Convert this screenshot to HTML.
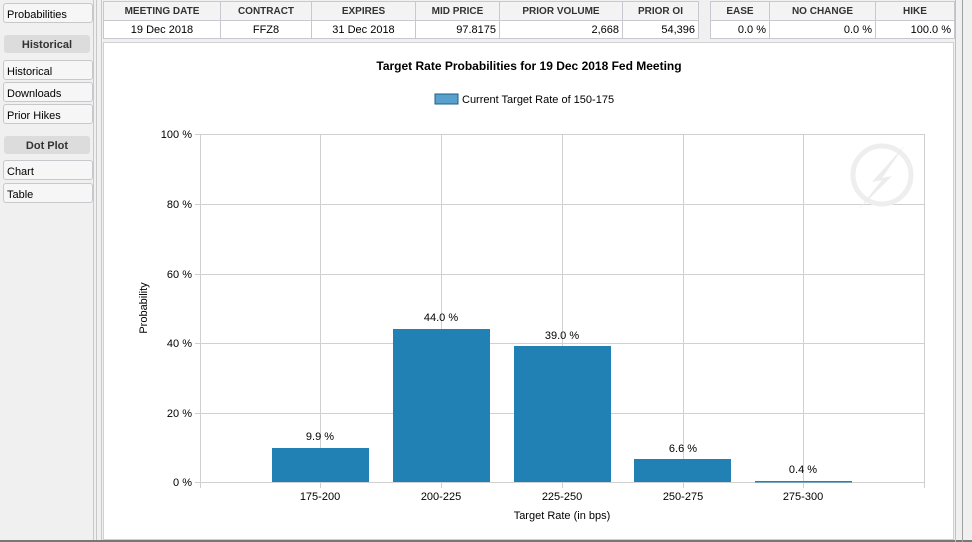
<!DOCTYPE html>
<html><head><style>
body{margin:0;width:972px;height:542px;background:#f0f0f0;position:relative;overflow:hidden;font-family:"Liberation Sans",Arial,sans-serif;font-size:11px;color:#000}
.a{position:absolute}
.nav{position:absolute;left:3px;width:90px;height:20px;border:1px solid #c8c8cc;border-radius:3px;background:#f6f6f6;box-sizing:border-box;padding:5px 0 0 3px;font-size:11px}
.hd{position:absolute;left:4px;width:86px;height:18px;background:#dcdcdc;border-radius:3px;text-align:center;font-weight:bold;font-size:11px;color:#333;padding-top:4px;box-sizing:border-box}
table{position:absolute;border-collapse:collapse;background:#fff;font-size:11px}
td,th{border:1px solid #c8c8d0;height:17px;padding:0 3px;box-sizing:border-box}
th{background:#f3f3f3;font-weight:bold;color:#333;font-size:10px;text-align:center}
</style></head><body>
<div class="a" style="left:93px;top:0;width:1px;height:542px;background:#c8c8c8"></div>
<div class="a" style="left:96px;top:0;width:1px;height:542px;background:#c8c8c8"></div>
<div class="a" style="left:101px;top:0;width:1px;height:542px;background:#c8c8c8"></div>
<div class="nav" style="top:3px">Probabilities</div>
<div class="hd" style="top:35px">Historical</div>
<div class="nav" style="top:60px">Historical</div>
<div class="nav" style="top:82px">Downloads</div>
<div class="nav" style="top:104px">Prior Hikes</div>
<div class="hd" style="top:136px">Dot Plot</div>
<div class="nav" style="top:160px">Chart</div>
<div class="nav" style="top:183px">Table</div>
<table style="left:103px;top:1px">
<tr style="height:19px"><th style="width:117px">MEETING DATE</th><th style="width:91px">CONTRACT</th><th style="width:104px">EXPIRES</th><th style="width:84px">MID PRICE</th><th style="width:123px">PRIOR VOLUME</th><th style="width:76px">PRIOR OI</th></tr>
<tr style="height:18px"><td style="text-align:center">19 Dec 2018</td><td style="text-align:center">FFZ8</td><td style="text-align:center">31 Dec 2018</td><td style="text-align:right">97.8175</td><td style="text-align:right">2,668</td><td style="text-align:right">54,396</td></tr>
</table>
<table style="left:710px;top:1px">
<tr style="height:19px"><th style="width:59px">EASE</th><th style="width:106px">NO CHANGE</th><th style="width:79px">HIKE</th></tr>
<tr style="height:18px"><td style="text-align:right">0.0 %</td><td style="text-align:right">0.0 %</td><td style="text-align:right">100.0 %</td></tr>
</table>
<div class="a" style="left:103px;top:42px;width:851px;height:498px;background:#fff;border:1px solid #d0d0d0;box-sizing:border-box"></div>
<div class="a" style="left:0;top:540px;width:972px;height:2px;background:#777"></div>
<div class="a" style="left:955px;top:0;width:1px;height:542px;background:#c0c0c0"></div>
<div class="a" style="left:962px;top:0;width:1px;height:542px;background:#a0a0a0"></div>
<svg class="a" style="left:0;top:0" width="972" height="542" font-family="Liberation Sans, Arial, sans-serif" font-size="11">
<text x="529" y="70" text-anchor="middle" font-weight="bold" font-size="12">Target Rate Probabilities for 19 Dec 2018 Fed Meeting</text>
<rect x="435" y="94" width="23" height="10" fill="#5aa0cc" stroke="#1a5f8a"/>
<text x="462" y="103">Current Target Rate of 150-175</text>
<g stroke="#d0d0d0" stroke-width="1">
<line x1="200" y1="134.5" x2="924" y2="134.5"/><line x1="200" y1="204.5" x2="924" y2="204.5"/><line x1="200" y1="274.5" x2="924" y2="274.5"/><line x1="200" y1="343.5" x2="924" y2="343.5"/><line x1="200" y1="413.5" x2="924" y2="413.5"/><line x1="195" y1="482.5" x2="924" y2="482.5"/>
<line x1="195" y1="134.5" x2="200" y2="134.5"/><line x1="195" y1="204.5" x2="200" y2="204.5"/><line x1="195" y1="274.5" x2="200" y2="274.5"/><line x1="195" y1="343.5" x2="200" y2="343.5"/><line x1="195" y1="413.5" x2="200" y2="413.5"/>
<line x1="200.5" y1="134" x2="200.5" y2="488"/><line x1="320.5" y1="134" x2="320.5" y2="488"/><line x1="441.5" y1="134" x2="441.5" y2="488"/><line x1="562.5" y1="134" x2="562.5" y2="488"/><line x1="683.5" y1="134" x2="683.5" y2="488"/><line x1="803.5" y1="134" x2="803.5" y2="488"/><line x1="924.5" y1="134" x2="924.5" y2="488"/>
</g>
<circle cx="882" cy="175" r="29" fill="none" stroke="#eeeeee" stroke-width="5"/>
<path d="M905 145 L872 182 L882 180 L858 210 L892 176 L882 178 Z" fill="#ececec"/>
<g text-anchor="end"><text x="192" y="138">100 %</text><text x="192" y="208">80 %</text><text x="192" y="278">60 %</text><text x="192" y="347">40 %</text><text x="192" y="417">20 %</text><text x="192" y="486">0 %</text></g>
<text transform="translate(147,308) rotate(-90)" text-anchor="middle">Probability</text>
<g fill="#2181b4">
<rect x="272" y="448" width="97" height="34"/><rect x="393" y="329" width="97" height="153"/><rect x="514" y="346" width="97" height="136"/><rect x="634" y="459" width="97" height="23"/><rect x="755" y="481" width="97" height="1.5"/>
</g>
<g text-anchor="middle"><text x="320" y="440">9.9 %</text><text x="441" y="321">44.0 %</text><text x="562" y="339">39.0 %</text><text x="683" y="452">6.6 %</text><text x="803" y="473">0.4 %</text>
<text x="320" y="500">175-200</text><text x="441" y="500">200-225</text><text x="562" y="500">225-250</text><text x="683" y="500">250-275</text><text x="803" y="500">275-300</text>
<text x="562" y="519">Target Rate (in bps)</text></g>
</svg>
</body></html>
